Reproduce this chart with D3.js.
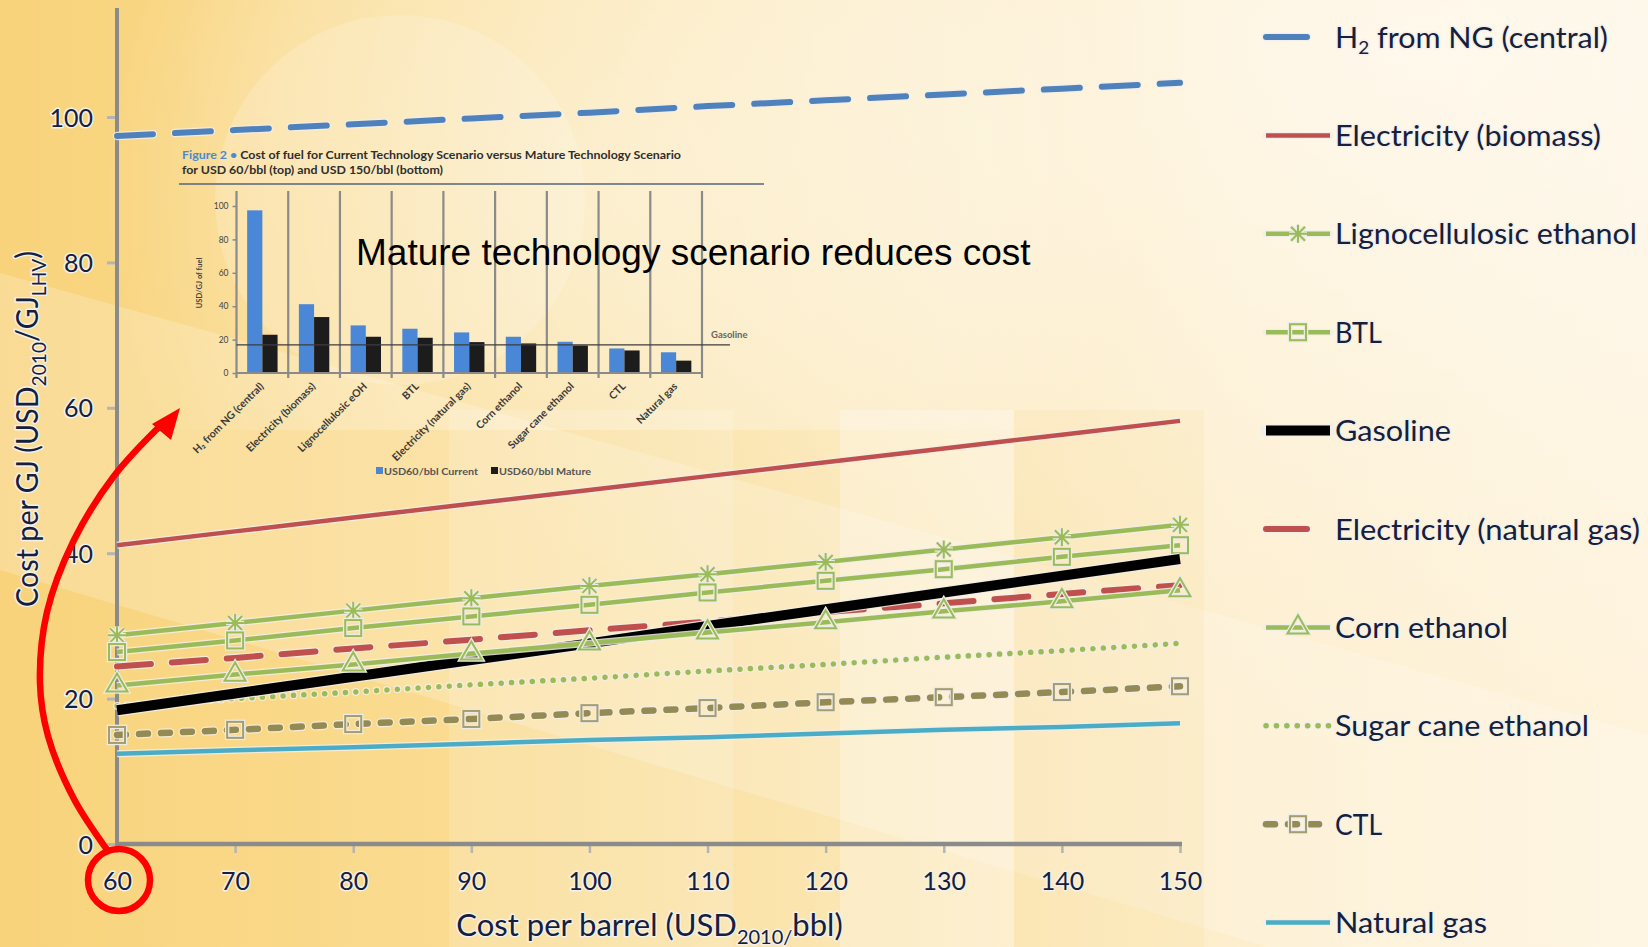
<!DOCTYPE html>
<html>
<head>
<meta charset="utf-8">
<script src="https://cdn.jsdelivr.net/npm/d3@7"></script>
<style>
  html, body { margin: 0; padding: 0; background: #fbe3a8; }
  svg { display: block; }
</style>
</head>
<body>
<svg id="chart" width="1648" height="947"></svg>
<script>
// ---- Fuel cost vs. crude price (USD2010/GJ) ----
const oilPrices = [60, 70, 80, 90, 100, 110, 120, 130, 140, 150];
const h2FromNg      = [97.4, 98.2, 99.0, 99.8, 100.6, 101.5, 102.3, 103.1, 103.9, 104.7];
const elecBiomass   = [41.1, 43.0, 44.9, 46.8, 48.7, 50.6, 52.5, 54.4, 56.3, 58.2];
const lignoEthanol  = [28.7, 30.4, 32.1, 33.8, 35.5, 37.1, 38.8, 40.5, 42.2, 43.9];
const btl           = [26.4, 28.0, 29.7, 31.3, 32.9, 34.6, 36.2, 37.8, 39.5, 41.1];
const gasoline      = [18.4, 20.7, 23.0, 25.3, 27.6, 30.0, 32.3, 34.6, 36.9, 39.2];
const elecNaturalGas= [24.4, 25.6, 26.9, 28.1, 29.4, 30.6, 31.9, 33.1, 34.4, 35.6];
const cornEthanol   = [21.8, 23.3, 24.7, 26.2, 27.6, 29.1, 30.5, 32.0, 33.4, 34.9];
const sugarCane     = [19.0, 20.0, 20.9, 21.9, 22.8, 23.8, 24.7, 25.7, 26.6, 27.6];
const ctl           = [15.0, 15.7, 16.5, 17.2, 18.0, 18.7, 19.5, 20.2, 20.9, 21.7];
const naturalGas    = [12.4, 12.9, 13.3, 13.8, 14.3, 14.7, 15.2, 15.7, 16.1, 16.6];

const costTicks = [0, 20, 40, 60, 80, 100];

// ---- Figure 2 bars: current vs mature technology at USD 60/bbl ----
const fuelNames   = ["H\u2082 from NG (central)", "Electricity (biomass)", "Lignocellulosic eOH", "BTL",
                     "Electricity (natural gas)", "Corn ethanol", "Sugar cane ethanol", "CTL", "Natural gas"];
const currentCost = [97.4, 41.2, 28.5, 26.5, 24.3, 21.7, 18.7, 14.7, 12.4];
const matureCost  = [22.9, 33.5, 21.7, 21.1, 18.5, 17.7, 16.5, 13.5, 7.4];
const gasolineRef = 16.9;
const insetTicks  = [0, 20, 40, 60, 80, 100];

// ---- styles ----
const GREEN = "#9BBB59", RED = "#C0504D", BLUE = "#4F81BD", AQUA = "#4BACC6", OLIVE = "#948A54";
const series = [
  { name: "H2 from NG (central)",       values: h2FromNg,       color: BLUE,  width: 6,   dash: "36 22",  cap: "round", marker: null,          legendDash: true },
  { name: "Electricity (biomass)",      values: elecBiomass,    color: RED,   width: 4.5, dash: null,     cap: "butt",  marker: null },
  { name: "Lignocellulosic ethanol",    values: lignoEthanol,   color: GREEN, width: 4.5, dash: null,     cap: "butt",  marker: "star" },
  { name: "BTL",                        values: btl,            color: GREEN, width: 4.5, dash: null,     cap: "butt",  marker: "square" },
  { name: "Gasoline",                   values: gasoline,       color: "#000", width: 10, dash: null,     cap: "butt",  marker: null },
  { name: "Electricity (natural gas)",  values: elecNaturalGas, color: RED,   width: 6,   dash: "34 21",  cap: "round", marker: null,          legendDash: true },
  { name: "Corn ethanol",               values: cornEthanol,    color: GREEN, width: 4.5, dash: null,     cap: "butt",  marker: "triangle" },
  { name: "Sugar cane ethanol",         values: sugarCane,      color: GREEN, width: 5.5, dash: "0.1 10.3", cap: "round", marker: null },
  { name: "CTL",                        values: ctl,            color: OLIVE, width: 6.5, dash: "9 13",   cap: "round", marker: "squareOlive" },
  { name: "Natural gas",                values: naturalGas,     color: AQUA,  width: 4.5, dash: null,     cap: "butt",  marker: null }
];
const legendWidths = [273, 266, 302, 47, 116, 305, 173, 254, 47, 152];

const W = 1648, H = 947;
const svg = d3.select("#chart");
const defs = svg.append("defs");

// ---- backdrop ----
const bgGrad = defs.append("linearGradient").attr("id", "bgGrad").attr("x1", 0).attr("x2", 1).attr("y1", 0).attr("y2", 0);
[[0, "#F8D37B"], [0.27, "#FADB90"], [0.5, "#FBE5B0"], [0.75, "#FDEECD"], [1, "#FEF3DC"]]
  .forEach(([o, c]) => bgGrad.append("stop").attr("offset", o).attr("stop-color", c));
const glow = defs.append("radialGradient").attr("id", "glow").attr("cx", 0.85).attr("cy", 0.05).attr("r", 0.75);
glow.append("stop").attr("offset", 0).attr("stop-color", "#fff").attr("stop-opacity", 0.55);
glow.append("stop").attr("offset", 1).attr("stop-color", "#fff").attr("stop-opacity", 0);
const glow2 = defs.append("radialGradient").attr("id", "glow2").attr("gradientUnits", "userSpaceOnUse")
  .attr("cx", 620).attr("cy", 200).attr("r", 520);
glow2.append("stop").attr("offset", 0).attr("stop-color", "#fff").attr("stop-opacity", 0.4);
glow2.append("stop").attr("offset", 0.7).attr("stop-color", "#fff").attr("stop-opacity", 0.2);
glow2.append("stop").attr("offset", 1).attr("stop-color", "#fff").attr("stop-opacity", 0);

const bg = svg.append("g");
bg.append("rect").attr("width", W).attr("height", H).attr("fill", "url(#bgGrad)");
bg.append("rect").attr("width", W).attr("height", H).attr("fill", "url(#glow)");
// diagonal light band
bg.append("path").attr("d", "M0,273 L1648,735 L1648,1060 L0,570 Z").attr("fill", "#fff").attr("opacity", 0.2);
// soft disc behind the figure
bg.append("rect").attr("width", W).attr("height", 430).attr("fill", "url(#glow2)");
bg.append("circle").attr("cx", 400).attr("cy", 200).attr("r", 185).attr("fill", "#fff").attr("opacity", 0.18);
// vertical panels
bg.append("rect").attr("x", 449).attr("y", 410).attr("width", 284).attr("height", 540).attr("fill", "#fff").attr("opacity", 0.16);
bg.append("rect").attr("x", 840).attr("y", 410).attr("width", 174).attr("height", 540).attr("fill", "#fff").attr("opacity", 0.28);
bg.append("rect").attr("x", 1014).attr("y", 410).attr("width", 190).attr("height", 540).attr("fill", "#F6CE6A").attr("opacity", 0.1);

// ---- scales ----
const x = d3.scaleLinear().domain([60, 150]).range([117, 1180]);
const y = d3.scaleLinear().domain([0, 100]).range([844, 117]);

const TEXT = "#16203a";
function halo(sel, w) {
  return sel.attr("fill", TEXT).attr("stroke", "#f3f1ea").attr("stroke-width", w || 3)
    .attr("stroke-linejoin", "round").style("paint-order", "stroke");
}

// ---- inset figure ----
const inset = svg.append("g").attr("class", "inset");
const xi = d3.scaleBand().domain(fuelNames).range([236.5, 702]);
const yi = d3.scaleLinear().domain([0, 100]).range([373, 206]);
const barW = 15.2;

const t1 = inset.append("text").attr("x", 182).attr("y", 158.5)
  .attr("font-family", "Lato, sans-serif").attr("font-weight", 700).attr("font-size", 11.5)
  .attr("textLength", 499).attr("lengthAdjust", "spacingAndGlyphs");
t1.append("tspan").attr("fill", "#4a8ad2").text("Figure 2 \u2022 ");
t1.append("tspan").attr("fill", "#2e2e2e").text("Cost of fuel for Current Technology Scenario versus Mature Technology Scenario");
inset.append("text").attr("x", 182).attr("y", 174).attr("fill", "#2e2e2e")
  .attr("font-family", "Lato, sans-serif").attr("font-weight", 700).attr("font-size", 11.5)
  .attr("textLength", 261).attr("lengthAdjust", "spacingAndGlyphs")
  .text("for USD 60/bbl (top) and USD 150/bbl (bottom)");
inset.append("line").attr("x1", 179).attr("x2", 764).attr("y1", 184).attr("y2", 184)
  .attr("stroke", "#56647a").attr("stroke-width", 1.6);

// separators
inset.selectAll("line.sep").data(fuelNames).join("line").attr("class", "sep")
  .attr("x1", d => xi(d) + xi.bandwidth()).attr("x2", d => xi(d) + xi.bandwidth())
  .attr("y1", 191).attr("y2", 378).attr("stroke", "#8a8a8a").attr("stroke-width", 2.2);

// bars
inset.selectAll("rect.cur").data(fuelNames).join("rect").attr("class", "cur")
  .attr("x", d => xi(d) + xi.bandwidth() / 2 - barW).attr("width", barW)
  .attr("y", (d, i) => yi(currentCost[i])).attr("height", (d, i) => yi(0) - yi(currentCost[i]))
  .attr("fill", "#4a87d6");
inset.selectAll("rect.mat").data(fuelNames).join("rect").attr("class", "mat")
  .attr("x", d => xi(d) + xi.bandwidth() / 2).attr("width", barW)
  .attr("y", (d, i) => yi(matureCost[i])).attr("height", (d, i) => yi(0) - yi(matureCost[i]))
  .attr("fill", "#1c1c1c");

// inset axes
const yiAxis = inset.append("g").attr("transform", "translate(236.5,0)")
  .call(d3.axisLeft(yi).tickValues(insetTicks).tickSize(4).tickPadding(4));
yiAxis.select(".domain").remove();
yiAxis.append("line").attr("y1", 191).attr("y2", 378).attr("stroke", "#8a8a8a").attr("stroke-width", 2.2);
yiAxis.selectAll(".tick line").attr("stroke", "#8a8a8a").attr("stroke-width", 1.5);
yiAxis.selectAll(".tick text").attr("font-family", "Lato, sans-serif").attr("font-size", 8.5).attr("fill", "#444");
inset.append("line").attr("x1", 236.5).attr("x2", 702).attr("y1", yi(0)).attr("y2", yi(0))
  .attr("stroke", "#8a8a8a").attr("stroke-width", 2.2);
inset.append("text").attr("transform", "translate(202,283) rotate(-90)").attr("text-anchor", "middle")
  .attr("font-family", "Lato, sans-serif").attr("font-weight", 700).attr("font-size", 7.5).attr("fill", "#444")
  .text("USD/GJ of fuel");

// gasoline reference
inset.append("line").attr("x1", 236.5).attr("x2", 730).attr("y1", yi(gasolineRef)).attr("y2", yi(gasolineRef))
  .attr("stroke", "#3d3d3d").attr("stroke-width", 1.3);
inset.append("text").attr("x", 711).attr("y", yi(gasolineRef) - 7).attr("fill", "#666")
  .attr("font-family", "Lato, sans-serif").attr("font-weight", 700).attr("font-size", 9.5).text("Gasoline");

// category labels
inset.selectAll("text.cat").data(fuelNames).join("text").attr("class", "cat")
  .attr("transform", d => `translate(${xi(d) + xi.bandwidth() / 2 + 2},387) rotate(-45)`)
  .attr("text-anchor", "end").attr("font-family", "Lato, sans-serif").attr("font-weight", 700)
  .attr("font-size", 10.5).attr("fill", "#3a3a3a").text(d => d);

// inset legend
const il = inset.append("g").attr("font-family", "Lato, sans-serif").attr("font-weight", 700).attr("font-size", 10).attr("fill", "#555");
il.append("rect").attr("x", 376).attr("y", 467).attr("width", 7).attr("height", 7).attr("fill", "#4a87d6");
il.append("text").attr("x", 384).attr("y", 475).attr("textLength", 94).attr("lengthAdjust", "spacingAndGlyphs").text("USD60/bbl Current");
il.append("rect").attr("x", 491).attr("y", 467).attr("width", 7).attr("height", 7).attr("fill", "#1c1c1c");
il.append("text").attr("x", 499).attr("y", 475).attr("textLength", 92).attr("lengthAdjust", "spacingAndGlyphs").text("USD60/bbl Mature");

// ---- main axes ----
const axisColor = "#8b8b8b";
const yAxisG = svg.append("g").attr("transform", `translate(${x(60)},0)`)
  .call(d3.axisLeft(y).tickValues(costTicks).tickSize(10).tickPadding(14).tickFormat(d3.format("d")));
yAxisG.select(".domain").remove();
yAxisG.append("line").attr("y1", y(0) + 6).attr("y2", y(115)).attr("stroke", axisColor).attr("stroke-width", 4);
yAxisG.selectAll(".tick line").attr("stroke", "#b4b4b4").attr("stroke-width", 3);
halo(yAxisG.selectAll(".tick text").attr("font-family", "Lato, sans-serif").attr("font-size", 25).attr("dy", "0.36em"), 3);

const xAxisG = svg.append("g").attr("transform", `translate(0,${y(0)})`)
  .call(d3.axisBottom(x).tickValues(oilPrices).tickSize(9).tickPadding(0).tickFormat(d3.format("d")));
xAxisG.select(".domain").remove();
xAxisG.append("line").attr("x1", x(60) - 2).attr("x2", x(150) + 2).attr("stroke", axisColor).attr("stroke-width", 4.5);
xAxisG.selectAll(".tick line").attr("stroke", "#b4b4b4").attr("stroke-width", 2.5);
halo(xAxisG.selectAll(".tick text").attr("font-family", "Lato, sans-serif").attr("font-size", 25).attr("y", 37).attr("dy", "0.36em"), 3);

// axis titles
const yt = svg.append("text").attr("transform", "translate(38,429) rotate(-90)")
  .attr("text-anchor", "middle").attr("font-family", "Lato, sans-serif").attr("font-size", 30)
  .attr("textLength", 356).attr("lengthAdjust", "spacingAndGlyphs");
halo(yt, 3);
yt.append("tspan").text("Cost per GJ (USD");
yt.append("tspan").attr("font-size", 20).attr("dy", 8).text("2010");
yt.append("tspan").attr("dy", -8).text("/GJ");
yt.append("tspan").attr("font-size", 20).attr("dy", 8).text("LHV");
yt.append("tspan").attr("dy", -8).text(")");

const xt = svg.append("text").attr("x", (x(60) + x(150)) / 2 + 1).attr("y", 936)
  .attr("text-anchor", "middle").attr("font-family", "Lato, sans-serif").attr("font-size", 31);
halo(xt, 3);
xt.append("tspan").text("Cost per barrel (USD");
xt.append("tspan").attr("font-size", 20).attr("dy", 8).text("2010/");
xt.append("tspan").attr("dy", -8).text("bbl)");

// ---- marker shapes ----
function drawMarker(g, kind, color) {
  if (!kind) return;
  const ol = "#ecece4";
  if (kind === "star") {
    const d = "M-7,-7L7,7M-7,7L7,-7M0,-9L0,9M-9,0L9,0";
    g.append("path").attr("d", d).attr("stroke", ol).attr("stroke-width", 4.5).attr("fill", "none");
    g.append("path").attr("d", d).attr("stroke", color).attr("stroke-width", 2).attr("fill", "none");
  } else if (kind === "square" || kind === "squareOlive") {
    g.append("rect").attr("x", -8).attr("y", -8).attr("width", 16).attr("height", 16)
      .attr("fill", "none").attr("stroke", ol).attr("stroke-width", 4.5);
    g.append("rect").attr("x", -8).attr("y", -8).attr("width", 16).attr("height", 16)
      .attr("fill", "none").attr("stroke", kind === "square" ? color : "#a59c72").attr("stroke-width", 2);
  } else if (kind === "triangle") {
    const d = d3.symbol(d3.symbolTriangle, 190)();
    g.append("path").attr("d", d).attr("fill", "none").attr("stroke", ol).attr("stroke-width", 4.5);
    g.append("path").attr("d", d).attr("fill", "none").attr("stroke", color).attr("stroke-width", 2);
  }
}

// ---- series lines ----
const line = d3.line().x(d => x(d[0])).y(d => y(d[1]));
const plot = svg.append("g");
// draw order keeps gasoline over the lighter fuels
const order = [0, 1, 9, 8, 7, 2, 3, 5, 4, 6];
order.forEach(i => {
  const s = series[i];
  const pts = oilPrices.map((p, k) => [p, s.values[k]]);
  const g = plot.append("g");
  g.append("path").attr("d", line(pts)).attr("fill", "none")
    .attr("stroke", "#f2efe6").attr("stroke-opacity", 0.85).attr("stroke-width", s.width + 2.5)
    .attr("stroke-dasharray", s.dash).attr("stroke-linecap", s.cap);
  g.append("path").attr("d", line(pts)).attr("fill", "none")
    .attr("stroke", s.color).attr("stroke-width", s.width)
    .attr("stroke-dasharray", s.dash).attr("stroke-linecap", s.cap);
  if (s.marker) {
    pts.forEach(p => {
      drawMarker(g.append("g").attr("transform", `translate(${x(p[0])},${y(p[1])})`), s.marker, s.color);
    });
  }
});

// ---- legend ----
const leg = svg.append("g");
series.forEach((s, i) => {
  const cy = 37 + i * 98.4;
  const g = leg.append("g").attr("transform", `translate(0,${cy})`);
  const dashed = !!s.legendDash;
  const x2 = dashed ? 1307 : 1330;
  g.append("line").attr("x1", 1266).attr("x2", x2).attr("stroke", "#f2efe6").attr("stroke-width", s.width + 2.5)
    .attr("stroke-linecap", "round").attr("stroke-dasharray", dashed ? null : s.dash);
  g.append("line").attr("x1", 1266).attr("x2", x2).attr("stroke", s.color).attr("stroke-width", s.width)
    .attr("stroke-linecap", s.cap === "round" || dashed ? "round" : "butt")
    .attr("stroke-dasharray", dashed ? null : s.dash);
  drawMarker(g.append("g").attr("transform", "translate(1298,0)"), s.marker, s.color);
  const t = g.append("text").attr("x", 1335).attr("y", 10.5).attr("font-family", "Lato, sans-serif").attr("font-size", 29)
    .attr("textLength", legendWidths[i]).attr("lengthAdjust", "spacingAndGlyphs");
  halo(t, 3);
  if (i === 0) {
    t.append("tspan").text("H");
    t.append("tspan").attr("font-size", 18).attr("dy", 6).text("2");
    t.append("tspan").attr("dy", -6).text(" from NG (central)");
  } else {
    t.text(s.name);
  }
});

// ---- callout ----
svg.append("text").attr("x", 356).attr("y", 265)
  .attr("font-family", "'Liberation Sans', Arial, sans-serif").attr("font-size", 37).attr("fill", "#000")
  .text("Mature technology scenario reduces cost");

const callout = svg.append("g").attr("fill", "none").attr("stroke", "#ff0000").attr("stroke-width", 6.5);
callout.append("circle").attr("cx", x(60) + 2).attr("cy", y(0) + 36).attr("r", 31);
const arrowPts = [[108, 851], [74, 799], [48, 736], [40, 683], [47, 612], [74, 540], [114, 476], [160, 426]];
callout.append("path").attr("d", d3.line().curve(d3.curveCatmullRom)(arrowPts)).attr("stroke-linecap", "round");
svg.append("path").attr("d", "M180,408 L152,424 L171,440 Z").attr("fill", "#ff0000");
</script>
</body>
</html>
